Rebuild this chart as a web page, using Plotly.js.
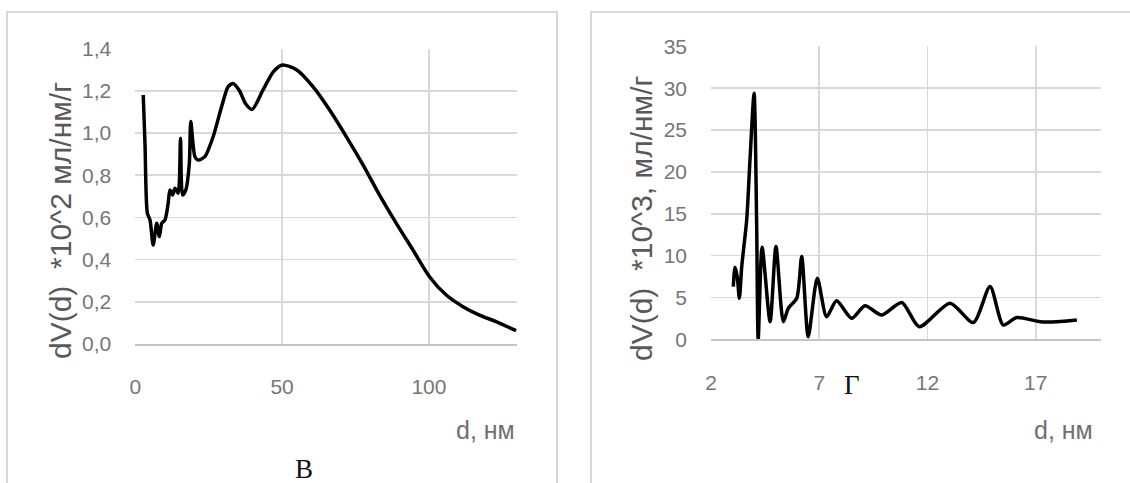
<!DOCTYPE html>
<html>
<head>
<meta charset="utf-8">
<script src="https://cdn.plot.ly/plotly-3.0.1.min.js"></script>
<style>html,body{margin:0;padding:0;background:#fff;}#chart{width:1130px;height:483px;}</style>
</head>
<body>
<div id="chart"></div>
<script>
// Panel В : pore size distribution, dV(d)*10^2
const dB = [2.7, 3.3, 4.1, 5.0, 6.1, 7.3, 8.2, 9.0, 10.1, 11.2, 11.8, 12.7, 13.5, 14.6, 15.4, 16.1, 17.2, 18.4, 18.9, 20.3, 21.4, 23.7, 26.5, 29.4, 31.6, 33.3, 35.5, 37.5, 39.8, 43.5, 47.0, 50.1, 54.9, 60.5, 66.2, 71.9, 77.6, 83.2, 88.9, 94.6, 100.2, 105.9, 111.6, 117.2, 122.9, 129.7];
const vB = [1.18, 0.95, 0.62, 0.588, 0.469, 0.572, 0.509, 0.572, 0.588, 0.667, 0.73, 0.706, 0.738, 0.714, 0.975, 0.706, 0.73, 0.856, 1.054, 0.888, 0.872, 0.888, 0.982, 1.125, 1.219, 1.235, 1.20, 1.14, 1.112, 1.204, 1.29, 1.322, 1.30, 1.22, 1.109, 0.982, 0.848, 0.706, 0.572, 0.445, 0.319, 0.232, 0.177, 0.137, 0.106, 0.063];
// Panel Г : dV(d)*10^3
const dG = [3.03, 3.11, 3.21, 3.31, 3.42, 3.65, 3.80, 3.99, 4.11, 4.18, 4.36, 4.73, 5.0, 5.34, 5.57, 5.96, 6.19, 6.49, 6.91, 7.34, 7.8, 8.5, 9.11, 9.88, 10.81, 11.62, 13.04, 14.12, 14.89, 15.5, 16.12, 17.2, 17.97, 18.9];
const vG = [6.3, 8.6, 7.5, 4.9, 8.7, 14.3, 21.4, 29.4, 13.5, 0, 11.0, 2.1, 11.1, 2.1, 3.7, 4.9, 9.9, 0.3, 7.3, 2.7, 4.6, 2.5, 4.0, 2.9, 4.4, 1.5, 4.3, 2.0, 6.3, 1.7, 2.6, 2.1, 2.1, 2.3];

const xTicksB = [0, 50, 100];
const yTicksB = [0, 0.2, 0.4, 0.6, 0.8, 1.0, 1.2, 1.4];
const xTicksG = [2, 7, 12, 17];
const yTicksG = [0, 5, 10, 15, 20, 25, 30, 35];

const W = 1130, H = 483;
const px = v => v / W;
const py = v => 1 - v / H;

const tickFont = {family: 'Liberation Sans, Arial, sans-serif', size: 21, color: '#767676'};
const titleFont = {family: 'Liberation Sans, Arial, sans-serif', size: 30, color: '#595959'};
const labelFont = {family: 'Liberation Sans, Arial, sans-serif', size: 25, color: '#707070'};
const letterFont = {family: 'Liberation Serif, Times New Roman, serif', size: 27, color: '#111'};

const lineStyle = {color: '#000', width: 3.5, shape: 'spline', smoothing: 0.7};

const traces = [
  {x: dB, y: vB, type: 'scatter', mode: 'lines', line: lineStyle, xaxis: 'x', yaxis: 'y', hoverinfo: 'skip'},
  {x: dG, y: vG, type: 'scatter', mode: 'lines', line: lineStyle, xaxis: 'x2', yaxis: 'y2', hoverinfo: 'skip'}
];

const commonX = {
  showgrid: true, gridcolor: '#d9d9d9', gridwidth: 1.6, zeroline: false,
  showline: true, linecolor: '#c4c4c4', linewidth: 2, mirror: false,
  ticks: '', tickfont: tickFont, ticklabelstandoff: 23, fixedrange: true
};
const commonY = {
  showgrid: true, gridcolor: '#d9d9d9', gridwidth: 1.6, zeroline: false,
  showline: false, ticks: '', tickfont: tickFont, ticklabelstandoff: 23, fixedrange: true
};

const layout = {
  width: W, height: H,
  margin: {l: 0, r: 0, t: 0, b: 0},
  paper_bgcolor: '#fff', plot_bgcolor: '#fff',
  showlegend: false,
  separators: ', ',
  xaxis: Object.assign({}, commonX, {domain: [px(135.3), px(517)], range: [0, 130], tickvals: xTicksB, anchor: 'y'}),
  yaxis: Object.assign({}, commonY, {domain: [py(344), py(48.6)], range: [0, 1.4], tickvals: yTicksB, tickformat: '.1f', anchor: 'x'}),
  xaxis2: Object.assign({}, commonX, {domain: [px(711), px(1100.7)], range: [2, 20], tickvals: xTicksG, anchor: 'y2'}),
  yaxis2: Object.assign({}, commonY, {domain: [py(339.3), py(46.3)], range: [0, 35], tickvals: yTicksG, anchor: 'x2'}),
  shapes: [
    {type: 'rect', xref: 'paper', yref: 'paper', x0: px(7), x1: px(557), y0: -0.05, y1: py(12), line: {color: '#d9d9d9', width: 2}},
    {type: 'rect', xref: 'paper', yref: 'paper', x0: px(591), x1: 1.05, y0: -0.05, y1: py(12), line: {color: '#d9d9d9', width: 2}}
  ],
  annotations: [
    {text: 'dV(d)  *10^2 мл/нм/г', xref: 'paper', yref: 'paper', x: px(61), y: py(221), textangle: -90, showarrow: false, font: titleFont, xanchor: 'center', yanchor: 'middle'},
    {text: 'dV(d)  *10^3, мл/нм/г', xref: 'paper', yref: 'paper', x: px(641), y: py(219), textangle: -90, showarrow: false, font: titleFont, xanchor: 'center', yanchor: 'middle'},
    {text: 'd, нм', xref: 'paper', yref: 'paper', x: px(517), y: py(430), showarrow: false, font: labelFont, xanchor: 'right', yanchor: 'middle'},
    {text: 'd, нм', xref: 'paper', yref: 'paper', x: px(1095), y: py(430), showarrow: false, font: labelFont, xanchor: 'right', yanchor: 'middle'},
    {text: 'В', xref: 'paper', yref: 'paper', x: px(304), y: py(469), showarrow: false, font: letterFont, xanchor: 'center', yanchor: 'middle'},
    {text: 'Г', xref: 'paper', yref: 'paper', x: px(852), y: py(385), showarrow: false, font: letterFont, xanchor: 'center', yanchor: 'middle'}
  ]
};

Plotly.newPlot('chart', traces, layout, {staticPlot: true, displayModeBar: false});
</script>
</body>
</html>
